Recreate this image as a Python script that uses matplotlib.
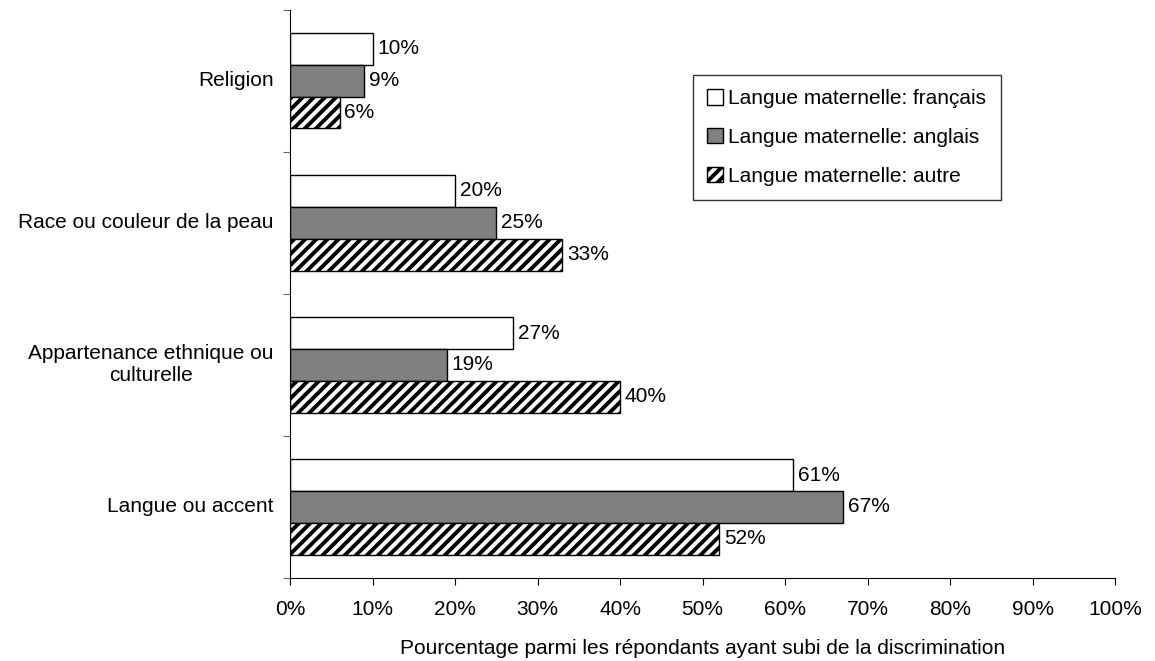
import numpy as np
import matplotlib.pyplot as plt

plt.rcParams['font.family'] = ['Liberation Sans', 'DejaVu Sans']
plt.rcParams['hatch.linewidth'] = 2.8
plt.rcParams['hatch.color'] = '#333333'

categories = ['Langue ou accent', 'Appartenance ethnique ou\nculturelle',
              'Race ou couleur de la peau', 'Religion']
francais = [61, 27, 20, 10]
anglais = [67, 19, 25, 9]
autre = [52, 40, 33, 6]
series_names = ['Langue maternelle: français', 'Langue maternelle: anglais',
                'Langue maternelle: autre']
xticks = np.arange(0, 101, 10)

FS = 15

fig = plt.figure(figsize=(11.55, 6.61), dpi=100)
ax = fig.add_axes([0.2511, 0.1256, 0.7143, 0.8594])

y = np.arange(len(categories))
h = 0.22
styles = [dict(color='white', hatch=None),
          dict(color='#808080', hatch=None),
          dict(color='white', hatch='///')]
for k, (vals, name, st) in enumerate(zip([francais, anglais, autre], series_names, styles)):
    pos = y + (1 - k) * (h + 0.005)
    bars = ax.barh(pos, vals, height=h, color=st['color'], edgecolor='black',
                   linewidth=1.0, hatch=st['hatch'], label=name)
    for b, v in zip(bars, vals):
        ax.text(v + 0.6, b.get_y() + b.get_height() / 2, f'{v}%',
                va='center', ha='left', fontsize=FS)

ax.set_xlim(0, 100)
ax.set_ylim(-0.5, len(categories) - 0.5)
ax.set_xticks(xticks)
ax.set_xticklabels([f'{t}%' for t in xticks], fontsize=FS)
ax.tick_params(axis='x', length=5, pad=11)
ax.set_yticks(np.arange(-0.5, len(categories), 1))
ax.set_yticklabels([])
ax.tick_params(axis='y', length=5, color='#666666')
for i, c in enumerate(categories):
    ax.text(-2, i, c, ha='right', va='center', fontsize=FS,
            multialignment='center')

for s in ['top', 'right']:
    ax.spines[s].set_visible(False)
ax.set_xlabel('Pourcentage parmi les répondants ayant subi de la discrimination',
              fontsize=FS, labelpad=14)

leg = ax.legend(loc='upper left', bbox_to_anchor=(0.488, 0.886), fontsize=FS,
                frameon=True, fancybox=False, edgecolor='black',
                handlelength=0.75, handleheight=0.75, handletextpad=0.25,
                labelspacing=0.95, borderpad=0.7, borderaxespad=0)
leg.get_frame().set_linewidth(1.0)

fig.savefig('out.png', dpi=100)
